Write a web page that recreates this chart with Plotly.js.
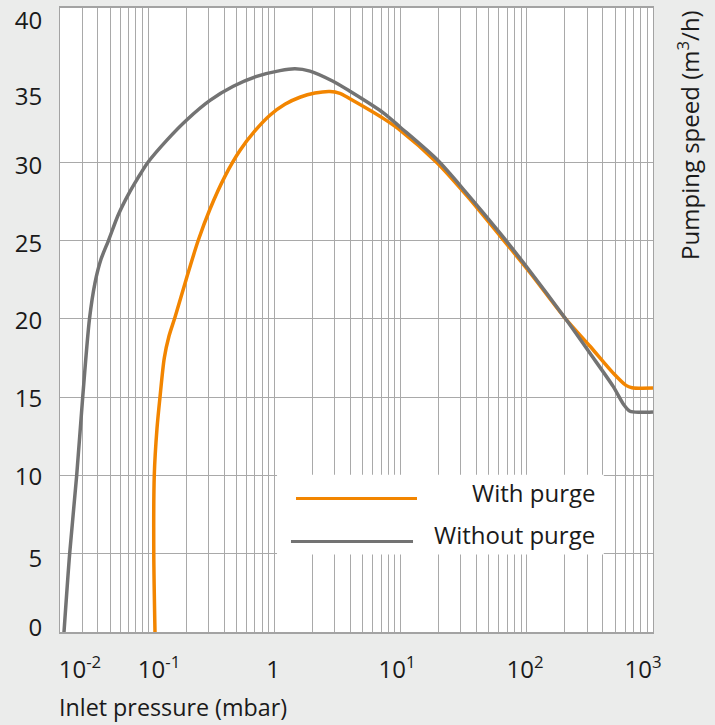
<!DOCTYPE html>
<html>
<head>
<meta charset="utf-8">
<script src="https://cdn.plot.ly/plotly-3.0.1.min.js"></script>
<style>html,body{margin:0;padding:0;background:#ebeceb;}#chart{width:715px;height:725px;}</style>
</head>
<body>
<div id="chart"></div>
<script>
// Inlet pressure (mbar) and pumping speed (m3/h)
const pressureWithout = [0.02152, 0.02386, 0.02712, 0.03027, 0.03426, 0.03788, 0.04225, 0.04844, 0.05761, 0.06915, 0.08299, 0.09961, 0.1401, 0.2018, 0.3088, 0.4722, 0.7239, 1.107, 1.456, 1.914, 2.912, 3.972, 7.253, 9.890, 19.43, 33.58, 61.33, 106.0, 200.8, 316.8, 481.9, 589.1, 657.3, 788.8, 1000];
const speedWithout    = [0, 5, 10, 15, 20, 22.3, 23.8, 25, 26.6, 27.9, 29.0, 30, 31.4, 32.7, 33.95, 34.85, 35.48, 35.85, 35.97, 35.82, 35.17, 34.53, 33.17, 32.25, 30.17, 28.0, 25.47, 23.04, 20.05, 17.8, 15.7, 14.5, 14.1, 14.03, 14.05];

const pressureWith = [0.1132, 0.1107, 0.1117, 0.1174, 0.1240, 0.1341, 0.1462, 0.1630, 0.1996, 0.2489, 0.3083, 0.4054, 0.5329, 0.7005, 0.9211, 1.211, 1.592, 2.094, 2.753, 3.304, 3.966, 7.279, 9.890, 19.43, 33.58, 61.33, 106.0, 200.8, 316.8, 481.9, 611.0, 681.6, 1000];
const speedWith    = [0, 5, 10, 13, 15, 17.5, 18.9, 20.1, 22.5, 25, 27.0, 29.1, 30.75, 32.0, 33.0, 33.7, 34.15, 34.42, 34.52, 34.4, 34.05, 32.8, 32.05, 29.97, 27.85, 25.3, 22.95, 20.05, 18.25, 16.55, 15.75, 15.6, 15.58];

const seriesNames = ["With purge", "Without purge"];

// Tick labels and the positions where they are printed
const xTickText = ["10<sup>-2</sup>", "10<sup>-1</sup>", "1", "10<sup>1</sup>", "10<sup>2</sup>", "10<sup>3</sup>"];
const xTickPos  = [0.0288, 0.1219, 0.975, 9.36, 96.8, 834];
const yTickText = ["0", "5", "10", "15", "20", "25", "30", "35", "40"];
const yTickPos  = [0.27, 4.69, 9.95, 14.91, 19.89, 24.81, 29.79, 34.21, 39.05];

// Grid line values
const xDecades = [0.01, 0.1, 1, 10, 100];
const xGridVals = [];
xDecades.forEach(d => { for (let k = 1; k <= 9; k++) { const v = d * k; if (v >= 0.02 && v < 1000) xGridVals.push(v); } });
const yGridVals = [5, 10, 15, 20, 25, 30];

const orange = "#f28500";
const grey = "#737373";
const gridC = "#a9a9a9";
const font = "Open Sans, Noto Sans, sans-serif";

const traces = [
  { x: pressureWith, y: speedWith, name: seriesNames[0], type: "scatter", mode: "lines",
    line: { color: orange, width: 3.5, shape: "spline", smoothing: 0.8 }, showlegend: false, hoverinfo: "skip" },
  { x: pressureWithout, y: speedWithout, name: seriesNames[1], type: "scatter", mode: "lines",
    line: { color: grey, width: 3.5, shape: "spline", smoothing: 0.8 }, showlegend: false, hoverinfo: "skip" }
];

const layout = {
  width: 715, height: 725,
  margin: { l: 60, r: 62, t: 8, b: 93 },
  paper_bgcolor: "#ebeceb",
  plot_bgcolor: "#ffffff",
  font: { family: font, size: 24, color: "#1a1a1a" },
  showlegend: false,
  xaxis: {
    type: "log", range: [Math.log10(0.02), 3], autorange: false,
    tickmode: "array", tickvals: xTickPos, ticktext: xTickText,
    showgrid: false, zeroline: false,
    ticks: "outside", ticklen: 15, tickcolor: "rgba(0,0,0,0)",
    tickfont: { size: 24, color: "#1a1a1a" },
    minor: { tickmode: "array", tickvals: xGridVals, showgrid: true, gridcolor: gridC, gridwidth: 1, ticks: "" },
    showline: true, linecolor: "#a3a3a3", linewidth: 2, mirror: true
  },
  yaxis: {
    range: [0, 39.85], autorange: false,
    tickmode: "array", tickvals: yTickPos, ticktext: yTickText,
    showgrid: false, zeroline: false,
    ticks: "outside", ticklen: 12, tickcolor: "rgba(0,0,0,0)",
    tickfont: { size: 24, color: "#1a1a1a" },
    minor: { tickmode: "array", tickvals: yGridVals, showgrid: true, gridcolor: gridC, gridwidth: 1, ticks: "" },
    showline: true, linecolor: "#a3a3a3", linewidth: 1, mirror: true
  },
  shapes: [
    { type: "rect", xref: "paper", yref: "paper", x0: 0.366, x1: 0.917, y0: 0.124, y1: 0.252,
      fillcolor: "#ffffff", line: { width: 0 }, layer: "above" },
    { type: "line", xref: "paper", yref: "paper", x0: 0.398, x1: 0.602, y0: 0.2138, y1: 0.2138,
      line: { color: orange, width: 3 }, layer: "above" },
    { type: "line", xref: "paper", yref: "paper", x0: 0.3895, x1: 0.5953, y0: 0.1449, y1: 0.1449,
      line: { color: grey, width: 3 }, layer: "above" }
  ],
  annotations: [
    { text: seriesNames[0], xref: "paper", yref: "paper", x: 0.9056, y: 0.2234, xanchor: "right", yanchor: "middle",
      showarrow: false, font: { size: 24, color: "#1a1a1a" } },
    { text: seriesNames[1], xref: "paper", yref: "paper", x: 0.9056, y: 0.1563, xanchor: "right", yanchor: "middle",
      showarrow: false, font: { size: 24, color: "#1a1a1a" } },
    { text: "Inlet pressure (mbar)", xref: "paper", yref: "paper", x: -0.004, y: -0.1475, xanchor: "left", yanchor: "bottom",
      borderpad: 0, showarrow: false, font: { size: 23.3, color: "#1a1a1a" } },
    { text: "Pumping speed (m<sup>3</sup>/h)", xref: "paper", yref: "paper", x: 1.0607, y: 0.7966, xanchor: "center", yanchor: "middle",
      textangle: -90, showarrow: false, font: { size: 24, color: "#1a1a1a" } }
  ]
};

Plotly.newPlot("chart", traces, layout, { displayModeBar: false, staticPlot: true });
</script>
</body>
</html>
